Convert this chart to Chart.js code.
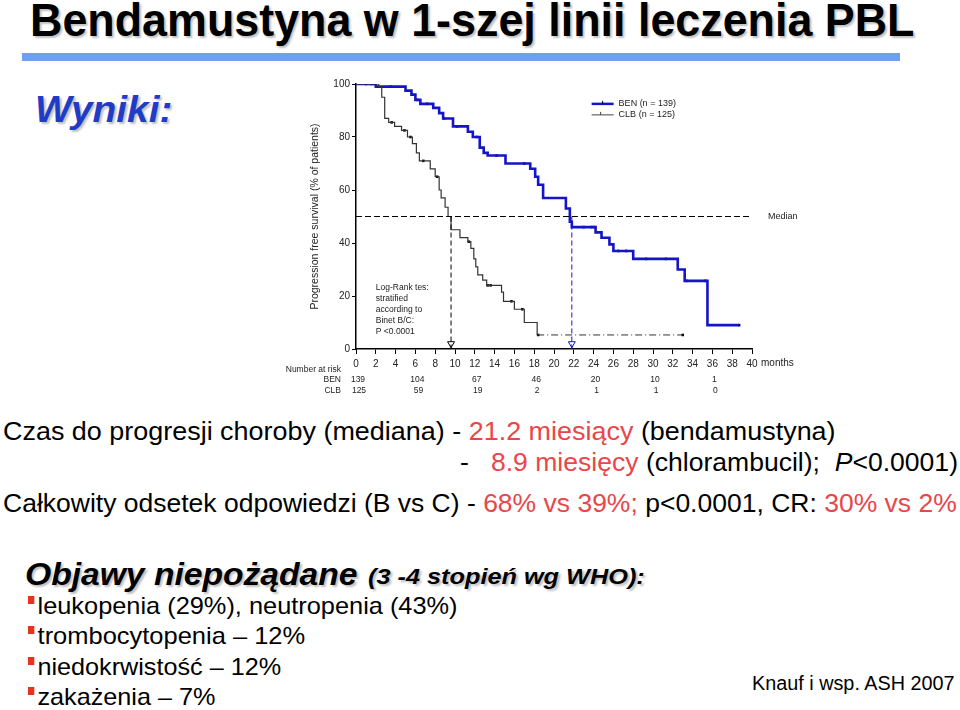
<!DOCTYPE html>
<html>
<head>
<meta charset="utf-8">
<script src="https://cdn.jsdelivr.net/npm/chart.js@4.4.0/dist/chart.umd.min.js"></script>
<style>
  body { margin:0; width:960px; height:710px; background:#fff; position:relative; overflow:hidden;
         font-family:Arial,"Liberation Sans",sans-serif; color:#000; }
  .t { position:absolute; white-space:nowrap; transform-origin:0 50%; line-height:1; }
  .red { color:#e8474a; }
  #title { left:30px; top:-3px; font-size:46px; font-weight:bold; text-shadow:2px 2px 2px rgba(0,0,0,0.25); }
  #bar { position:absolute; left:22px; top:53px; width:878px; height:8px; background:#6f9ff0; }
  #wyn { left:35px; top:92px; font-size:36px; font-weight:bold; font-style:italic; color:#1f3cc8; text-shadow:2px 2px 2px rgba(0,0,0,0.25); }
  .body { font-size:25px; }
  .bul { font-size:24px; }
  .sq { display:inline-block; width:6px; height:8px; background:#e8321e; vertical-align:top; margin-top:2px; margin-right:3px; }
  #wrap { position:absolute; left:270px; top:70px; width:540px; height:330px; }
</style>
</head>
<body>
<div id="title" class="t" data-w="885">Bendamustyna w 1-szej linii leczenia PBL</div>
<div id="bar"></div>
<div id="wyn" class="t" data-w="137">Wyniki:</div>

<div id="wrap"><canvas id="km"></canvas></div>

<div class="t body" style="left:3px;top:419px" data-w="833">Czas do progresji choroby (mediana) - <span class="red">21.2 miesiący</span> (bendamustyna)</div>
<div class="t body" style="left:460px;top:450px" data-w="498">-&nbsp;&nbsp; <span class="red">8.9 miesięcy</span> (chlorambucil);&nbsp; <i>P</i>&lt;0.0001)</div>
<div class="t body" style="left:3px;top:491px" data-w="954">Całkowity odsetek odpowiedzi (B vs C) - <span class="red">68% vs 39%;</span> p&lt;0.0001, CR: <span class="red">30% vs 2%</span></div>

<div class="t" style="left:25px;top:558px;font-size:32px;font-weight:bold;font-style:italic;text-shadow:2px 2px 2px rgba(0,0,0,0.25)" data-w="333">Objawy niepożądane</div>
<div class="t" style="left:368px;top:566px;font-size:22px;font-weight:bold;font-style:italic;text-shadow:2px 2px 2px rgba(0,0,0,0.25)" data-w="277">(3 -4 stopień wg WHO):</div>

<div class="t bul" style="left:28px;top:594px" data-w="430"><span class="sq"></span>leukopenia (29%), neutropenia (43%)</div>
<div class="t bul" style="left:28px;top:624px" data-w="277"><span class="sq"></span>trombocytopenia – 12%</div>
<div class="t bul" style="left:28px;top:655px" data-w="253"><span class="sq"></span>niedokrwistość – 12%</div>
<div class="t bul" style="left:28px;top:685px" data-w="187"><span class="sq"></span>zakażenia – 7%</div>
<div class="t" style="left:752px;top:673px;font-size:20px" data-w="203">Knauf i wsp. ASH 2007</div>

<script>
// fit text lines to the widths measured on the slide
document.querySelectorAll('[data-w]').forEach(function(el) {
  var w = +el.getAttribute('data-w');
  el.style.transform = 'scaleX(' + (w / el.offsetWidth) + ')';
});

// ---- data (months, % progression free) ----
var benTimes = [0, 2.0, 5.0, 5.6, 6.0, 6.5, 7.8, 8.4, 8.8, 9.8, 11.3, 11.8, 12.5, 12.9, 13.3, 15.1, 17.6, 18.1, 18.4, 18.9, 21.2, 21.6, 21.8, 24.2, 24.8, 25.6, 26.0, 28.0, 32.5, 33.2, 35.5, 38.7];
var benSurv  = [100, 99, 97.5, 96, 94, 92.5, 91, 89, 87, 84, 82, 80, 76, 74, 73, 70, 68, 65, 62, 57, 53, 48, 46, 44, 42, 39.5, 37, 34, 30, 25.7, 9, 9];
var clbTimes = [0, 2.3, 2.6, 2.9, 3.3, 3.9, 4.6, 5.2, 5.7, 6.1, 6.4, 7.5, 8.0, 8.4, 8.6, 9.0, 9.3, 9.6, 10.5, 11.3, 11.6, 11.9, 12.1, 12.3, 12.8, 13.2, 14.7, 14.9, 16.0, 17.0, 18.3];
var clbSurv  = [100, 99, 95, 87, 85.5, 84, 82.5, 80, 77.5, 74, 71, 68, 65, 60, 57, 53.5, 50, 45, 42, 40.5, 38, 34, 31, 28, 26, 24, 21.5, 18, 15, 10, 5.3];
var clbTailEnd = 33;

var benCensorT = [1, 1.8, 3.5, 6.2, 7.2, 8.9, 10.2, 12.2, 14.2, 17.0, 23.0, 23.8, 24.1, 26.5, 27.3, 29.3, 31.3, 33.4, 35.3, 38.7];
var benCensorS = [100, 100, 99, 94, 92.5, 87, 84, 80, 73, 70, 46, 46, 46, 37, 37, 34, 34, 25.7, 25.7, 9];
var clbCensorT = [1.5, 3.6, 4.9, 5.5, 6.8, 8.2, 11.4, 13.3, 13.6, 15.7, 16.8, 18.4, 33];
var clbCensorS = [100, 85.5, 82.5, 80, 71, 65, 40.5, 24, 24, 18, 15, 5.3, 5.3];

var medianLevel = 50;
var benMedian = 21.8;
var clbMedian = 9.6;

var xTickStep = 2;
var yTickStep = 20;

var riskTimes = [0, 6, 12, 18, 24, 30, 36];
var riskBen = [139, 104, 67, 46, 20, 10, 1];
var riskClb = [125, 59, 19, 2, 1, 1, 0];

var legendLabels = ['BEN (n = 139)', 'CLB (n = 125)'];
var logRankText = ['Log-Rank tes:', 'stratified', 'according to', 'Binet B/C:', 'P <0.0001'];

function pts(t, s) { return t.map(function(v, i) { return {x: v, y: s[i]}; }); }

var BLUE = '#1414c8';
var FONT = 'Arial, "Liberation Sans", sans-serif';

var extras = {
  id: 'extras',
  afterDraw: function(chart) {
    var c = chart.ctx, x = chart.scales.x, y = chart.scales.y;
    c.save();
    c.fillStyle = '#222';
    c.font = '10px ' + FONT;
    c.textBaseline = 'middle';
    // months
    c.textAlign = 'left';
    c.fillText('months', x.right + 9, y.bottom + 14);
    // median label
    c.font = '9px ' + FONT;
    c.fillText('Median', x.right + 16, y.getPixelForValue(medianLevel));
    // number at risk
    c.font = '8.5px ' + FONT;
    c.textAlign = 'right';
    c.fillText('Number at risk', x.left - 15, y.bottom + 21);
    c.fillText('BEN', x.left - 15, y.bottom + 31);
    c.fillText('CLB', x.left - 15, y.bottom + 42);
    c.textAlign = 'center';
    riskTimes.forEach(function(t, i) {
      c.fillText(String(riskBen[i]), x.getPixelForValue(t) + 2, y.bottom + 31);
      c.fillText(String(riskClb[i]), x.getPixelForValue(t) + 3, y.bottom + 42);
    });
    // log-rank box
    c.textAlign = 'left';
    c.font = '8.5px ' + FONT;
    logRankText.forEach(function(s, i) {
      c.fillText(s, x.getPixelForValue(2), y.getPixelForValue(23) + i * 11);
    });
    // legend
    var lx = x.getPixelForValue(23.8), ly = y.getPixelForValue(92.5);
    c.strokeStyle = BLUE; c.lineWidth = 2.5;
    c.beginPath(); c.moveTo(lx, ly); c.lineTo(lx + 22, ly); c.stroke();
    c.lineWidth = 1; c.strokeStyle = '#000';
    c.beginPath(); c.moveTo(lx + 11, ly - 3); c.lineTo(lx + 11, ly); c.stroke();
    c.strokeStyle = '#444';
    c.beginPath(); c.moveTo(lx, ly + 11); c.lineTo(lx + 22, ly + 11); c.stroke();
    c.beginPath(); c.moveTo(lx + 9, ly + 8); c.lineTo(lx + 9, ly + 11); c.stroke();
    c.fillStyle = '#222';
    c.font = '9px ' + FONT;
    c.fillText(legendLabels[0], lx + 27, ly);
    c.fillText(legendLabels[1], lx + 27, ly + 11);
    // y axis title
    c.translate(x.left - 41, (y.top + y.bottom) / 2);
    c.rotate(-Math.PI / 2);
    c.textAlign = 'center';
    c.font = '10.5px ' + FONT;
    c.fillText('Progression free survival (% of patients)', 0, 0);
    c.restore();
  }
};

var tickFont = {family: FONT, size: 10};

new Chart(document.getElementById('km'), {
  type: 'line',
  data: {
    datasets: [
      {data: [{x: 0, y: medianLevel}, {x: 40, y: medianLevel}], borderColor: '#000', borderWidth: 1, borderDash: [6, 3], pointRadius: 0},
      {data: [{x: clbMedian, y: medianLevel}, {x: clbMedian, y: 0}], borderColor: '#000', borderWidth: 1, borderDash: [5, 3], pointRadius: 0},
      {data: [{x: benMedian, y: medianLevel}, {x: benMedian, y: 0}], borderColor: BLUE, borderWidth: 1, borderDash: [5, 3], pointRadius: 0},
      {type: 'scatter', data: [{x: clbMedian, y: 2}], pointStyle: 'triangle', rotation: 180, radius: 4, borderColor: '#000', backgroundColor: '#fff', borderWidth: 1},
      {type: 'scatter', data: [{x: benMedian, y: 2}], pointStyle: 'triangle', rotation: 180, radius: 4, borderColor: BLUE, backgroundColor: '#fff', borderWidth: 1},
      {data: [{x: clbTimes[clbTimes.length - 1], y: clbSurv[clbSurv.length - 1]}, {x: clbTailEnd, y: clbSurv[clbSurv.length - 1]}],
       borderColor: '#333', borderWidth: 1, borderDash: [7, 3, 1, 3], pointRadius: 0},
      {data: pts(clbTimes, clbSurv), stepped: true, borderColor: '#333', borderWidth: 1.2, pointRadius: 0},
      {data: pts(benTimes, benSurv), stepped: true, borderColor: BLUE, borderWidth: 2.6, pointRadius: 0},
      {type: 'scatter', data: pts(benCensorT, benCensorS), pointStyle: 'rect', radius: 1.8, backgroundColor: '#000', borderColor: '#000', borderWidth: 0},
      {type: 'scatter', data: pts(clbCensorT, clbCensorS), pointStyle: 'rect', radius: 1.8, backgroundColor: '#000', borderColor: '#000', borderWidth: 0}
    ]
  },
  options: {
    responsive: true, maintainAspectRatio: false, animation: false,
    layout: {padding: {top: 14, right: 58, left: 0, bottom: 0}},
    plugins: {legend: {display: false}, tooltip: {enabled: false}},
    scales: {
      x: {type: 'linear', min: 0, max: 40,
          ticks: {stepSize: xTickStep, color: '#222', font: tickFont, padding: 4, maxRotation: 0, autoSkip: false},
          grid: {drawOnChartArea: false, color: '#000', tickLength: 5, lineWidth: 1},
          border: {color: '#000', width: 1.5},
          afterFit: function(s) { s.height = 51; }},
      y: {min: 0, max: 100,
          ticks: {stepSize: yTickStep, color: '#222', font: tickFont, padding: 2},
          grid: {drawOnChartArea: false, color: '#000', tickLength: 4, lineWidth: 1},
          border: {color: '#000', width: 1.5},
          afterFit: function(s) { s.width = 86; }}
    }
  },
  plugins: [extras]
});
</script>
</body>
</html>
